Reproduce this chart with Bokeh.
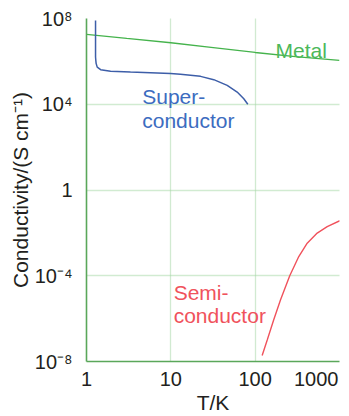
from bokeh.plotting import figure
from bokeh.models import FixedTicker, Label
from bokeh.embed import file_html
from bokeh.resources import INLINE

# ---- data ----
metal_T = [1, 3, 10, 30, 100, 300, 1000]
metal_sigma = [1.8e7, 1.17e7, 7.4e6, 4.5e6, 2.6e6, 1.66e6, 1.12e6]

super_T = [1.28, 1.28, 1.29, 1.30, 1.34, 1.47, 1.93, 3.32, 9.9, 13.0, 22.5, 32.3, 46.6, 61.2, 73.3, 81.8]
super_sigma = [8.1e7, 1.6e6, 1.1e6, 8.1e5, 5.4e5, 4.1e5, 3.5e5, 3.2e5, 2.7e5, 2.5e5, 2.0e5, 1.4e5, 7.6e4, 3.7e4, 1.8e4, 1.0e4]

semi_T = [121, 139, 166, 200, 257, 329, 414, 544, 715, 1009]
semi_sigma = [1.9e-8, 1.0e-7, 8.9e-7, 7.6e-6, 1.0e-4, 7.9e-4, 3.3e-3, 9.8e-3, 1.95e-2, 3.7e-2]

x_ticks = [1, 10, 100, 1000]
x_tick_labels = ["1", "10", "100", "1000"]
y_ticks = [1e-8, 1e-4, 1, 1e4, 1e8]
y_tick_labels = ["10\u207b\u2078", "10\u207b\u2074", "1", "10\u2074", "10\u2078"]

FONT = "Liberation Sans"
DARK = "#231f20"
GREEN = "#45b34c"
BLUE = "#3d5ea8"
RED = "#f0525c"

p = figure(width=349, height=416, x_axis_type="log", y_axis_type="log",
           x_range=(1, 1000), y_range=(1e-8, 1e8),
           output_backend="svg", toolbar_location=None,
           min_border_left=86, min_border_right=10, min_border_top=18, min_border_bottom=54)
p.outline_line_color = None
p.background_fill_color = "white"
p.border_fill_color = "white"

# grid
p.xgrid.ticker = FixedTicker(ticks=[10, 100, 1000])
p.ygrid.ticker = FixedTicker(ticks=[1e-4, 1, 1e4, 1e8])
for g in (p.xgrid, p.ygrid):
    g.grid_line_color = "#a3d6a3"
    g.grid_line_dash = "1 1"
    g.grid_line_width = 1.3
    g.minor_grid_line_color = None

# axes
p.xaxis.ticker = FixedTicker(ticks=x_ticks)
p.yaxis.ticker = FixedTicker(ticks=y_ticks)
xo = {float(t): l for t, l in zip(x_ticks, x_tick_labels)}
# last label sits left of its tick so that it stays inside the page
xo[float(x_ticks[-1])] = x_tick_labels[-1] + "\u00a0" * 2
p.xaxis.major_label_overrides = xo
p.yaxis.major_label_overrides = {float(t): l for t, l in zip(y_ticks, y_tick_labels)}
for ax in (p.xaxis, p.yaxis):
    ax.axis_line_color = "#5aa75a"
    ax.axis_line_width = 1.6
    ax.major_tick_line_color = None
    ax.minor_tick_line_color = None
    ax.major_label_text_font = FONT
    ax.major_label_text_font_size = "20px"
    ax.major_label_text_color = DARK
    ax.axis_label_text_font = FONT
    ax.axis_label_text_font_size = "21px"
    ax.axis_label_text_color = DARK
    ax.axis_label_text_font_style = "normal"
p.xaxis.major_label_standoff = 0
p.yaxis.major_label_standoff = 8
p.yaxis.axis_label = "Conductivity/(S cm\u207b\u00b9)"
p.yaxis.axis_label_standoff = 0
p.xaxis.axis_label = "T/K"
p.xaxis.axis_label_standoff = -2

# curves
p.line(metal_T, metal_sigma, line_color=GREEN, line_width=1.3)
p.line(super_T, super_sigma, line_color=BLUE, line_width=1.5)
p.line(semi_T, semi_sigma, line_color=RED, line_width=1.4)

def lab(x, y, text, color):
    p.add_layout(Label(x=x, y=y, text=text, text_color=color, text_font=FONT,
                       text_font_size="21px", text_align="left", text_baseline="alphabetic"))

# series labels
lab(174, 3.25e6, "Metal", "#4cb85a")
lab(4.58, 2.23e4, "Super-", "#3c6cc0")
lab(4.58, 1.8e3, "conductor", "#3c6cc0")
lab(10.8, 1.62e-5, "Semi-", RED)
lab(10.8, 1.38e-6, "conductor", RED)

open("out.html", "w").write(file_html(p, INLINE))
